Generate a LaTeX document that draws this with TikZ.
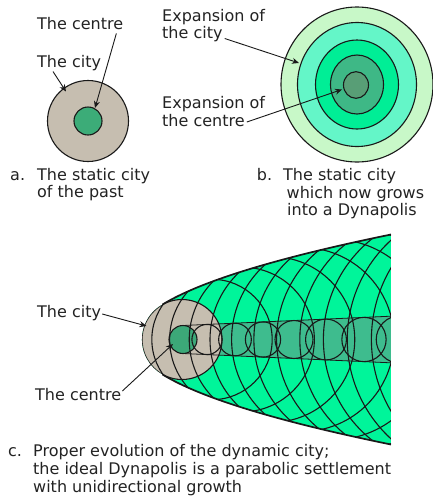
\documentclass[tikz,border=0pt]{standalone}
\usepackage{fontspec}
\setmainfont{DejaVu Sans}
\usetikzlibrary{arrows.meta}
\definecolor{ink}{RGB}{25,25,25}
\definecolor{txt}{RGB}{35,35,35}
\definecolor{cgray}{RGB}{198,190,176}
\definecolor{agreen}{RGB}{60,172,120}
\definecolor{bone}{RGB}{200,248,200}
\definecolor{btwo}{RGB}{100,246,200}
\definecolor{bthree}{RGB}{0,238,150}
\definecolor{bfour}{RGB}{62,184,134}
\definecolor{bfive}{RGB}{88,158,118}
\definecolor{cgreen}{RGB}{0,245,154}
\definecolor{cband}{RGB}{62,188,142}
\definecolor{ccentre}{RGB}{60,168,120}
\begin{document}
\begin{tikzpicture}[x=1pt,y={(0pt,-1pt)},
  lbl/.style={font=\fontsize{16}{17.5}\selectfont, text=txt, inner sep=0pt, anchor=base west},
  arr/.style={draw=ink, line width=0.9pt, -{Stealth[length=7pt,width=6pt]}},
  ring/.style={draw=ink, line width=1.1pt},
  netline/.style={draw=ink, line width=1.1pt},
  thinline/.style={draw=ink, line width=0.8pt},
  edge/.style={draw=ink, line width=1.7pt}]
\fill[white] (0,0) rectangle (432,499);
\useasboundingbox (0,0) rectangle (432,499);

% ---------- panel a ----------
\draw[ring, fill=cgray] (88,121) circle[radius=40.5];
\draw[ring, fill=agreen] (88,121) circle[radius=14];
\node[lbl] (acentre) at (37,29) {The centre};
\node[lbl] (acity) at (37,67) {The city};
\coordinate (acentreTip) at (95,108);
\coordinate (acityTip) at (66,91.5);
\draw[arr] ([xshift=-7pt,yshift=-4pt]acentre.south east) -- (acentreTip);
\draw[arr] ([xshift=16pt,yshift=-1pt]acity.south west) -- (acityTip);
\node[lbl] (acapA) at (10,180.7) {a.};
\node[lbl] (acapB) at (37,180.7) {The static city};
\node[lbl] (acapC) at (37,197.5) {of the past};

% ---------- panel b ----------
\draw[ring, fill=bone] (357,84.5) ellipse[x radius=76, y radius=77.5];
\draw[ring, fill=btwo] (357,84.5) ellipse[x radius=59.5, y radius=62];
\draw[ring, fill=bthree] (357,84.5) ellipse[x radius=41.5, y radius=44.5];
\draw[ring, fill=bfour] (357,84.5) ellipse[x radius=26.5, y radius=29.5];
\draw[ring, fill=bfive] (356,85) ellipse[x radius=12.5, y radius=13.3];
\node[lbl] (bcityA) at (162,21) {Expansion of};
\node[lbl] (bcityB) at (162,38.5) {the city};
\node[lbl] (bcentreA) at (162,108.5) {Expansion of};
\node[lbl] (bcentreB) at (162,126) {the centre};
\coordinate (bcityTip) at (299,63);
\coordinate (bcentreTip) at (342,89.5);
\draw[arr] ([xshift=2pt]bcityB.base east) -- (bcityTip);
\draw[arr] ([xshift=2pt,yshift=4pt]bcentreB.base east) -- (bcentreTip);
\node[lbl] (bcapA) at (256.7,180.7) {b.};
\node[lbl] (bcapB) at (283,180.7) {The static city};
\node[lbl] (bcapC) at (286.5,198) {which now grows};
\node[lbl] (bcapD) at (287,215) {into a Dynapolis};

% ---------- panel c ----------
\def\K{42.9}
\path[save path=\cshape]
  plot[domain=-105:-34.97, samples=60] ({134+\x*\x/\K},{339.5+\x})
  arc[start angle=240.9, end angle=119.1, radius=40]
  -- plot[domain=34.97:105, samples=60] ({134+\x*\x/\K},{339.5+\x})
  -- cycle;
\fill[cgreen, use path=\cshape];
\begin{scope}
  \clip[use path=\cshape];
  \fill[cband] (183,325.5) -- (395,316) -- (395,363) -- (183,353.5) -- cycle;
  \fill[cgray] (182,339.5) circle[radius=40];
  \fill[ccentre] (183,339.5) circle[radius=14];
  \foreach \n in {1,...,13} {
    \pgfmathsetmacro\uu{37.3+30*\n}
    \pgfmathsetmacro\rr{1.12*sqrt(\K)*sqrt(\uu)}
    \draw[netline] ({144.7+\uu},339.5) circle[radius=\rr];
  }
  \draw[thinline] (183,325.5) -- (395,316);
  \draw[thinline] (183,353.5) -- (395,363);
  \foreach \cc in {183,207,235,263,294,326,364,400} {
    \pgfmathsetmacro\rs{14+0.045*(\cc-183)}
    \draw[ring] (\cc,339.5) circle[radius=\rs];
  }
  \draw[ring] (182,339.5) circle[radius=40];
\end{scope}
\draw[edge] plot[domain=-105:-34.97, samples=60] ({134+\x*\x/\K},{339.5+\x});
\draw[edge] plot[domain=34.97:105, samples=60] ({134+\x*\x/\K},{339.5+\x});

\node[lbl] (ccity) at (37,317) {The city};
\node[lbl] (ccentre) at (35,400) {The centre};
\coordinate (ccityTip) at (146.5,326);
\coordinate (ccentreTip) at (173,344);
\draw[arr] ([xshift=1pt,yshift=3pt]ccity.base east) -- (ccityTip);
\draw[arr] ([xshift=1pt,yshift=9pt]ccentre.base east) -- (ccentreTip);

\node[lbl] (ccapA) at (8,456.5) {c.};
\node[lbl] (ccapB) at (33,456.5) {Proper evolution of the dynamic city;};
\node[lbl] (ccapC) at (33,474.5) {the ideal Dynapolis is a parabolic settlement};
\node[lbl] (ccapD) at (33,492.5) {with unidirectional growth};
\end{tikzpicture}
\end{document}
